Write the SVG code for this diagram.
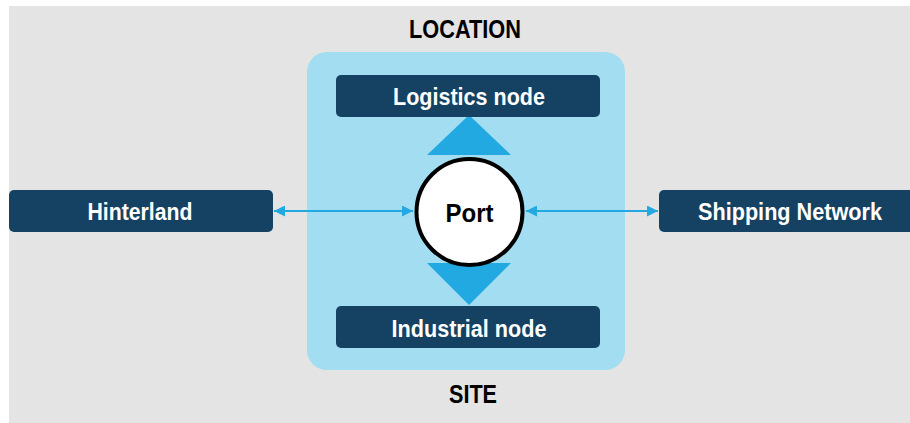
<svg xmlns="http://www.w3.org/2000/svg" width="910" height="423" viewBox="0 0 910 423">
<style>
.box{fill:#154263}
.lbl{font-family:"Liberation Sans",Arial,sans-serif;font-weight:bold;font-size:24px;fill:#ffffff;text-anchor:middle}
.cap{font-family:"Liberation Sans",Arial,sans-serif;font-weight:bold;font-size:25px;fill:#000000;text-anchor:middle}
.tri{fill:#22a9e1}
.conn{stroke:#22a9e1;stroke-width:2;fill:none}
</style>
<defs>
<marker id="ah" viewBox="0 0 10 10" refX="10" refY="5" markerWidth="12" markerHeight="11" markerUnits="userSpaceOnUse" orient="auto-start-reverse">
<path d="M0,0 L10,5 L0,10 z" fill="#22a9e1"/>
</marker>
</defs>
<rect x="0" y="0" width="910" height="423" fill="#ffffff"/>
<rect x="9" y="6" width="901" height="417" fill="#e4e4e4"/>
<text class="cap" x="465" y="38" textLength="112" lengthAdjust="spacingAndGlyphs">LOCATION</text>
<text class="cap" x="473" y="403" textLength="48" lengthAdjust="spacingAndGlyphs">SITE</text>
<g id="site">
<rect x="307" y="52" width="318" height="318" rx="20" fill="#a3ddf2"/>
</g>
<g id="triangles">
<polygon class="tri" points="469,115 511,155 427,155"/>
<polygon class="tri" points="427,263 511,263 469,305"/>
</g>
<g id="logistics">
<rect class="box" x="336" y="75" width="264" height="42" rx="5"/>
<text class="lbl" x="469" y="105" textLength="152" lengthAdjust="spacingAndGlyphs">Logistics node</text>
</g>
<g id="industrial">
<rect class="box" x="336" y="306" width="264" height="42" rx="5"/>
<text class="lbl" x="469" y="337" textLength="155" lengthAdjust="spacingAndGlyphs">Industrial node</text>
</g>
<g id="hinterland">
<rect class="box" x="9" y="190" width="264" height="42" rx="5"/>
<text class="lbl" x="140" y="220" textLength="105" lengthAdjust="spacingAndGlyphs">Hinterland</text>
</g>
<g id="shipping">
<rect class="box" x="659" y="190" width="260" height="42" rx="5"/>
<text class="lbl" x="790" y="220" textLength="184" lengthAdjust="spacingAndGlyphs">Shipping Network</text>
</g>
<g id="connectors">
<line class="conn" x1="274" y1="211" x2="413" y2="211" marker-start="url(#ah)" marker-end="url(#ah)"/>
<line class="conn" x1="526" y1="211" x2="658" y2="211" marker-start="url(#ah)" marker-end="url(#ah)"/>
</g>
<g id="port">
<circle cx="469.5" cy="212" r="53" fill="#ffffff" stroke="#000000" stroke-width="4"/>
<text class="cap" x="469.5" y="222" font-size="27" textLength="48" lengthAdjust="spacingAndGlyphs">Port</text>
</g>
</svg>
